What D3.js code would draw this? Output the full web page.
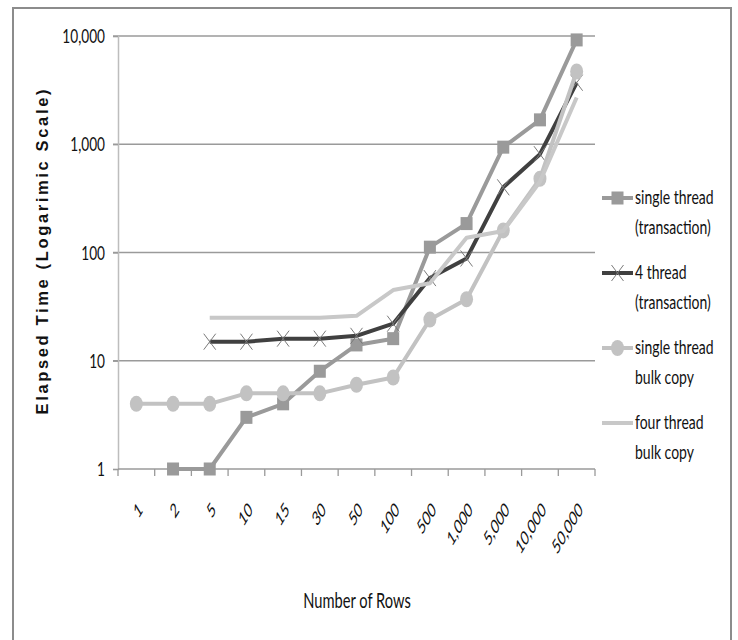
<!DOCTYPE html>
<html>
<head>
<meta charset="utf-8">
<script src="https://cdn.jsdelivr.net/npm/d3@7"></script>
<style>
  body { margin: 0; background: #fff; }
  svg { display: block; }
</style>
</head>
<body>
<svg id="chart" width="738" height="640"></svg>
<script>
const categories = ["1","2","5","10","15","30","50","100","500","1,000","5,000","10,000","50,000"];
const singleThreadTx = [null,1,1,3,4,8,14,16,112,185,940,1680,9200];
const fourThreadTx = [null,null,15,15,16,16,17,22,58,88,400,810,3700];
const singleThreadBulk = [4,4,4,5,5,5,6,7,24,37,160,480,4700];
const fourThreadBulk = [null,null,25,25,25,25,26,45,52,137,158,450,2700];
const yTickValues = [1,10,100,1000,10000];
const yTickLabels = ["1","10","100","1,000","10,000"];

const series = [
  {name: ["single thread","(transaction)"], values: singleThreadTx, color: "#9a9a9a", width: 4, marker: "square"},
  {name: ["4 thread","(transaction)"], values: fourThreadTx, color: "#404040", width: 4, marker: "x"},
  {name: ["single thread","bulk copy"], values: singleThreadBulk, color: "#c2c2c2", width: 4, marker: "circle"},
  {name: ["four thread","bulk copy"], values: fourThreadBulk, color: "#c8c8c8", width: 4, marker: "none"}
];

const svg = d3.select("#chart");
const font = "Lato, 'Open Sans', sans-serif";
const SX = 0.7; // horizontal squeeze of the original picture

// outer border
svg.append("rect").attr("x", 13).attr("y", 8).attr("width", 718).attr("height", 650)
  .attr("fill", "#fff").attr("stroke", "#8c8c8c").attr("stroke-width", 2);

const plotLeft = 118, plotRight = 595, plotTop = 36, plotBottom = 469;
const x = d3.scaleBand().domain(categories).range([plotLeft, plotRight]);
const y = d3.scaleLog().domain([1, 10000]).range([plotBottom, plotTop]);

function sqText(parent, tx, ty, str, size, anchor, extra, sx) {
  return parent.append("text")
    .attr("transform", `translate(${tx},${ty}) scale(${sx || SX},1)` + (extra || ""))
    .attr("text-anchor", anchor).attr("font-family", font).attr("font-size", size)
    .attr("fill", "#111").text(str);
}

// gridlines
svg.append("g").selectAll("line").data(yTickValues.slice(1)).join("line")
  .attr("x1", plotLeft - 5).attr("x2", plotRight).attr("y1", d => y(d)).attr("y2", d => y(d))
  .attr("stroke", "#9a9a9a").attr("stroke-width", 1.3);

// y axis
const yAxis = d3.axisLeft(y).tickValues(yTickValues).tickFormat(() => "").tickSize(5);
const yg = svg.append("g").attr("transform", `translate(${plotLeft},0)`).call(yAxis);
yg.select(".domain").attr("stroke", "#bdbdbd").attr("stroke-width", 1.5);
yg.selectAll(".tick line").attr("stroke", "#9a9a9a").attr("stroke-width", 1.3);
yTickValues.forEach((v, i) => {
  sqText(svg, 105, y(v) + 7, yTickLabels[i], 19.5, "end");
});

// x axis
const xg = svg.append("g").attr("transform", `translate(0,${plotBottom})`);
xg.append("line").attr("x1", plotLeft).attr("x2", plotRight).attr("y1", 0).attr("y2", 0)
  .attr("stroke", "#9a9a9a").attr("stroke-width", 1.5);
const bounds = categories.map(c => x(c)).concat([plotRight]);
xg.selectAll("line.tk").data(bounds).join("line").attr("class", "tk")
  .attr("x1", d => d).attr("x2", d => d).attr("y1", 0).attr("y2", 7)
  .attr("stroke", "#9a9a9a").attr("stroke-width", 1.3);
categories.forEach(c => {
  sqText(svg, x(c) + x.bandwidth()/2 + 4, 506, c, 20, "end", " rotate(-45)", 0.6)
    .attr("dy", "0.35em");
});

// axis titles
svg.append("text").attr("transform", `translate(48,252) rotate(-90)`)
  .attr("text-anchor", "middle").attr("font-family", "'Liberation Sans', Arial, sans-serif")
  .attr("font-weight", "bold").attr("font-size", 16.5).attr("fill", "#111")
  .attr("textLength", 325).attr("lengthAdjust", "spacing")
  .text("Elapsed Time (Logarimic Scale)");
sqText(svg, 357, 608, "Number of Rows", 21, "middle");

// lines
const line = d3.line()
  .defined(d => d.v != null)
  .x(d => x(d.c) + x.bandwidth()/2)
  .y(d => y(d.v));

function drawMarker(g, type, color, cx, cy) {
  if (type === "square") {
    g.append("rect").attr("x", cx - 6).attr("y", cy - 6.5).attr("width", 12).attr("height", 13)
      .attr("fill", color);
  } else if (type === "circle") {
    g.append("ellipse").attr("cx", cx).attr("cy", cy).attr("rx", 6.5).attr("ry", 8)
      .attr("fill", color);
  } else if (type === "x") {
    g.append("path").attr("d", `M${cx-6},${cy-8}L${cx+6},${cy+8}M${cx+6},${cy-8}L${cx-6},${cy+8}`)
      .attr("stroke", "#7a7a7a").attr("stroke-width", 1).attr("fill", "none");
  }
}

series.forEach(s => {
  const pts = categories.map((c, i) => ({c, v: s.values[i]}));
  const g = svg.append("g");
  g.append("path").attr("d", line(pts)).attr("fill", "none")
    .attr("stroke", s.color).attr("stroke-width", s.width).attr("stroke-linejoin", "round");
  pts.filter(p => p.v != null).forEach(p => {
    drawMarker(g, s.marker, s.color, x(p.c) + x.bandwidth()/2, y(p.v));
  });
});

// legend
const lg = svg.append("g");
series.forEach((s, i) => {
  const cy = 198 + i * 75;
  lg.append("line").attr("x1", 602).attr("x2", 633).attr("y1", cy).attr("y2", cy)
    .attr("stroke", s.color).attr("stroke-width", s.width);
  drawMarker(lg, s.marker, s.color, 617.5, cy);
  s.name.forEach((t, j) => {
    sqText(lg, 635, cy + 6 + j * 30, t, 20, "start");
  });
});
</script>
</body>
</html>
